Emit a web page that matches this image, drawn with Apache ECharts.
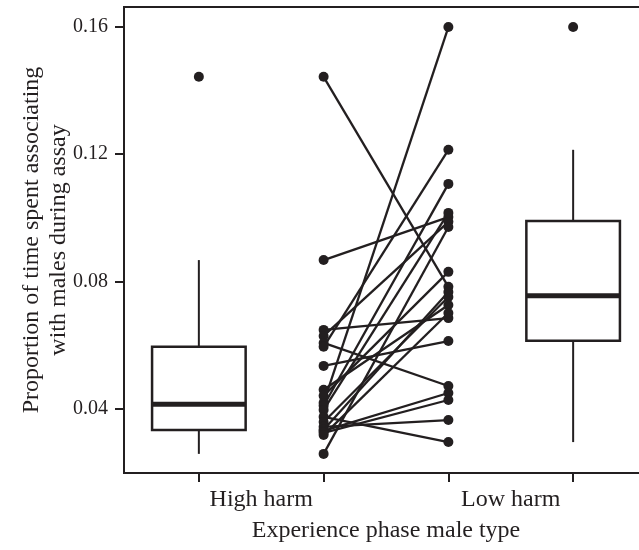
<!DOCTYPE html>
<html>
<head>
<meta charset="utf-8">
<script src="https://cdn.jsdelivr.net/npm/echarts@6/dist/echarts.min.js"></script>
<style>html,body{margin:0;padding:0;background:#fff;}#c{width:639px;height:550px;}</style>
</head>
<body>
<div id="c"></div>
<script>
// ---- data ----
const categories = ['High harm', 'Low harm'];
const categoryLabelX = [1.5, 3.5];
const xTicks = [1, 2, 3, 4];
const yTicks = [0.04, 0.08, 0.12, 0.16];
const boxX = [1, 4];
const pairX = [2, 3];
// paired individuals: proportion with High harm males vs Low harm males
const highHarmPaired = [0.1442, 0.0867, 0.0648, 0.0629, 0.0607, 0.0595, 0.0535, 0.0460, 0.0441, 0.0419,
                        0.0410, 0.0397, 0.0375, 0.0359, 0.0344, 0.0335, 0.0331, 0.0325, 0.0318, 0.0259];
const lowHarmPaired  = [0.0783, 0.1002, 0.0685, 0.0987, 0.0472, 0.1213, 0.0613, 0.0726, 0.0830, 0.1598,
                        0.1106, 0.1015, 0.0296, 0.0751, 0.0365, 0.0767, 0.0450, 0.0428, 0.0701, 0.0971];
// box stats: [lower whisker, Q1, median, Q3, upper whisker]
const highHarmBox = [0.0259, 0.0334, 0.0415, 0.0595, 0.0867];
const lowHarmBox  = [0.0296, 0.0614, 0.0755, 0.0990, 0.1213];
const highHarmOutliers = [0.1442];
const lowHarmOutliers  = [0.1598];

const INK = '#231f20';
const FONT = "'Liberation Serif', 'Times New Roman', serif";

const chart = echarts.init(document.getElementById('c'), null, {renderer: 'canvas'});

const pairSeries = highHarmPaired.map((h, i) => ({
  type: 'line',
  data: [[pairX[0], h], [pairX[1], lowHarmPaired[i]]],
  symbol: 'circle',
  symbolSize: 10,
  showSymbol: true,
  lineStyle: {color: INK, width: 2.3},
  itemStyle: {color: INK, opacity: 1},
  silent: true,
  animation: false,
  z: 3
}));

const boxData = [
  [boxX[0]].concat(highHarmBox),
  [boxX[1]].concat(lowHarmBox)
];

const outlierData = highHarmOutliers.map(v => [boxX[0], v])
  .concat(lowHarmOutliers.map(v => [boxX[1], v]));

const option = {
  animation: false,
  backgroundColor: '#fff',
  grid: {left: 124, top: 7, width: 524, height: 466, show: true,
         outerBoundsMode: 'none', containLabel: false,
         borderColor: INK, borderWidth: 2, backgroundColor: 'transparent'},
  xAxis: {
    type: 'value', min: 0.4, max: 4.6,
    name: 'Experience phase male type', nameLocation: 'middle', nameGap: 46,
    nameMoveOverlap: false,
    nameTextStyle: {fontFamily: FONT, fontSize: 24, color: INK},
    axisLine: {show: true, lineStyle: {color: INK, width: 2}},
    axisTick: {show: true, length: 9, customValues: xTicks, lineStyle: {color: INK, width: 2}},
    axisLabel: {show: true, customValues: categoryLabelX, margin: 15,
      fontFamily: FONT, fontSize: 24, color: INK,
      formatter: v => { const i = categoryLabelX.findIndex(c => Math.abs(c - v) < 1e-6); return i >= 0 ? categories[i] : ''; }},
    splitLine: {show: false}
  },
  yAxis: {
    type: 'value', min: 0.0199, max: 0.1661,
    name: 'Proportion of time spent associating\nwith males during assay',
    nameLocation: 'middle', nameRotate: 90, nameGap: 52,
    nameMoveOverlap: false,
    nameTextStyle: {fontFamily: FONT, fontSize: 24, color: INK, lineHeight: 27},
    axisLine: {show: true, lineStyle: {color: INK, width: 2}},
    axisTick: {show: true, length: 9, customValues: yTicks, lineStyle: {color: INK, width: 2}},
    axisLabel: {show: true, customValues: yTicks, margin: 16,
      fontFamily: FONT, fontSize: 20, color: INK,
      formatter: v => v.toFixed(2)},
    splitLine: {show: false}
  },
  series: [
    {
      type: 'custom',
      data: boxData,
      encode: {x: 0, y: [1, 2, 3, 4, 5]},
      silent: true,
      z: 2,
      renderItem: function (params, api) {
        const x = api.value(0);
        const pMin = api.coord([x, api.value(1)]);
        const pQ1 = api.coord([x, api.value(2)]);
        const pMed = api.coord([x, api.value(3)]);
        const pQ3 = api.coord([x, api.value(4)]);
        const pMax = api.coord([x, api.value(5)]);
        const halfW = api.size([0.75, 0])[0] / 2;
        const cx = pMin[0];
        return {
          type: 'group',
          children: [
            {type: 'line', shape: {x1: cx, y1: pMin[1], x2: cx, y2: pQ1[1]}, style: {stroke: INK, lineWidth: 2}},
            {type: 'line', shape: {x1: cx, y1: pQ3[1], x2: cx, y2: pMax[1]}, style: {stroke: INK, lineWidth: 2}},
            {type: 'rect', shape: {x: cx - halfW, y: pQ3[1], width: 2 * halfW, height: pQ1[1] - pQ3[1]},
             style: {fill: '#fff', stroke: INK, lineWidth: 2.5}},
            {type: 'line', shape: {x1: cx - halfW, y1: pMed[1], x2: cx + halfW, y2: pMed[1]}, style: {stroke: INK, lineWidth: 5}}
          ]
        };
      }
    },
    {
      type: 'scatter',
      data: outlierData,
      symbol: 'circle',
      symbolSize: 10,
      itemStyle: {color: INK, opacity: 1},
      silent: true,
      z: 3
    }
  ].concat(pairSeries)
};
chart.setOption(option);
</script>
</body>
</html>
